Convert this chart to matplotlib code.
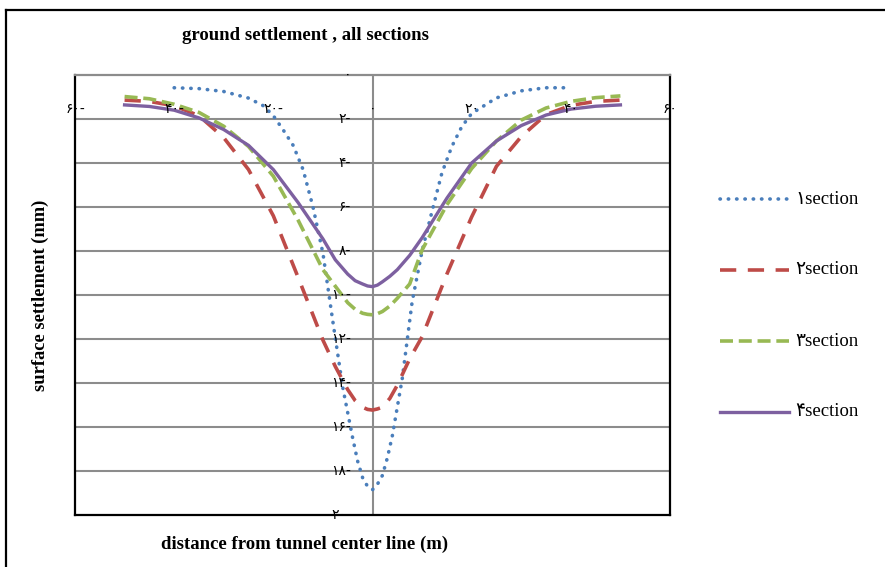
import matplotlib
matplotlib.use('Agg')
import matplotlib.pyplot as plt
from matplotlib.lines import Line2D

# data
x1 = [-40, -35, -30, -25, -22, -20, -18, -16, -14, -12, -10, -8, -6, -4, -3, -2, -1, 0,
      1, 2, 3, 4, 6, 8, 10, 12, 14, 16, 18, 20, 25, 30, 35, 39]
y1 = [-0.58, -0.62, -0.75, -1.05, -1.4, -1.85, -2.5, -3.2, -4.3, -6.0, -8.1, -11.2,
      -14.2, -16.5, -17.55, -18.3, -18.7, -18.85, -18.6, -18.2, -17.4, -16.4, -13.8,
      -10.3, -8.0, -6.2, -4.45, -3.25, -2.35, -1.75, -1.04, -0.72, -0.58, -0.58]

x2 = [-50, -45, -40, -35, -30, -25, -20, -15, -10, -7.5, -5, -3.5, -2, -1, 0, 1, 2,
      3.5, 5, 7.5, 10, 15, 20, 25, 30, 35, 40, 45, 50]
y2 = [-1.14, -1.2, -1.4, -1.85, -2.85, -4.3, -6.4, -9.2, -12.05, -13.25, -14.3, -14.8,
      -15.1, -15.2, -15.23, -15.18, -15.1, -14.7, -14.1, -12.9, -11.9, -9.05, -6.45,
      -4.15, -2.8, -1.8, -1.38, -1.2, -1.14]

x3 = x2
y3 = [-0.98, -1.08, -1.33, -1.7, -2.33, -3.25, -4.6, -6.6, -8.85, -9.6, -10.35, -10.65,
      -10.83, -10.88, -10.9, -10.85, -10.75, -10.5, -10.15, -9.5, -7.95, -5.9, -4.25,
      -3.0, -2.05, -1.5, -1.2, -1.03, -0.95]

x4 = x2
y4 = [-1.36, -1.43, -1.6, -1.95, -2.48, -3.2, -4.3, -5.8, -7.45, -8.4, -9.05, -9.35,
      -9.5, -9.59, -9.62, -9.55, -9.4, -9.15, -8.85, -8.2, -7.4, -5.6, -4.0, -3.0,
      -2.3, -1.82, -1.55, -1.42, -1.36]

x_ticks = [-60, -40, -20, 0, 20, 40, 60]
y_ticks = [0, -2, -4, -6, -8, -10, -12, -14, -16, -18, -20]
series_names = ['1section', '2section', '3section', '4section']

fa = str.maketrans('0123456789', '۰۱۲۳۴۵۶۷۸۹')


def fa_num(v):
    s = str(abs(v)).translate(fa)
    return s + '-' if v < 0 else s


serif = ['Liberation Serif', 'DejaVu Sans']

fig = plt.figure(figsize=(8.85, 5.67), dpi=100)
ax = fig.add_axes([75 / 885, 52 / 567, 595 / 885, 440 / 567])

colors = ['#4a7ebb', '#be4b48', '#98b954', '#7d60a0']
styles = [
    dict(linestyle=(0, (0.1, 2.2)), linewidth=2.6, dash_capstyle='round'),
    dict(linestyle=(0, (4.5, 3.2)), linewidth=2.6),
    dict(linestyle=(0, (3.6, 1.6)), linewidth=2.6),
    dict(linestyle='-', linewidth=2.4),
]

ax.set_xlim(-60, 60)
ax.set_ylim(-20, 0)
for yv in y_ticks[1:-1]:
    ax.axhline(yv, color='#8c8c8c', linewidth=1.5, zorder=1)
ax.axvline(0, color='#8c8c8c', linewidth=1.5, zorder=1)

for xs, ys, c, st in zip([x1, x2, x3, x4], [y1, y2, y3, y4], colors, styles):
    ax.plot(xs, ys, color=c, zorder=3, **st)

ax.set_xticks([])
ax.set_yticks([])
for sp in ['left', 'right', 'bottom']:
    ax.spines[sp].set_color('black')
    ax.spines[sp].set_linewidth(1.6)
ax.spines['top'].set_color('#8c8c8c')
ax.spines['top'].set_linewidth(1.6)

# tick labels drawn as text, like the Excel original
for yv in y_ticks:
    ax.text(-4.3, yv, fa_num(yv), ha='right', va='center', fontsize=10,
            family='DejaVu Sans', zorder=4)
for xv in x_ticks:
    ax.text(xv, -1.55, fa_num(xv), ha='center', va='center', fontsize=10,
            family='DejaVu Sans', zorder=4, clip_on=False)

fig.text(305 / 885, 1 - 35 / 567, 'ground settlement , all sections', ha='center',
         va='center', fontsize=13.5, fontweight='bold', family='Liberation Serif')
fig.text(305 / 885, 1 - 544 / 567, 'distance from tunnel center line (m)', ha='center',
         va='center', fontsize=13.5, fontweight='bold', family='Liberation Serif')
fig.text(40 / 885, 1 - 295 / 567, 'surface settlement (mm)', ha='center', va='center',
         rotation=90, fontsize=13.3, fontweight='bold', family='Liberation Serif')

# legend built by hand
leg_y = [199, 270, 341, 412]
for name, c, st, yp in zip(series_names, colors, styles, leg_y):
    yf = 1 - yp / 567
    fig.add_artist(Line2D([720 / 885, 789 / 885], [yf, yf], color=c, **st))
    fig.text(795 / 885, yf, name.translate(fa), ha='left', va='center',
             fontsize=13.5, family=serif)

# outer chart frame
fig.add_artist(Line2D([6 / 885, 6 / 885], [0, 1 - 10 / 567], color='black', linewidth=1.6))
fig.add_artist(Line2D([6 / 885, 1], [1 - 10 / 567, 1 - 10 / 567], color='black', linewidth=1.6))

fig.savefig('out.png', dpi=100)
